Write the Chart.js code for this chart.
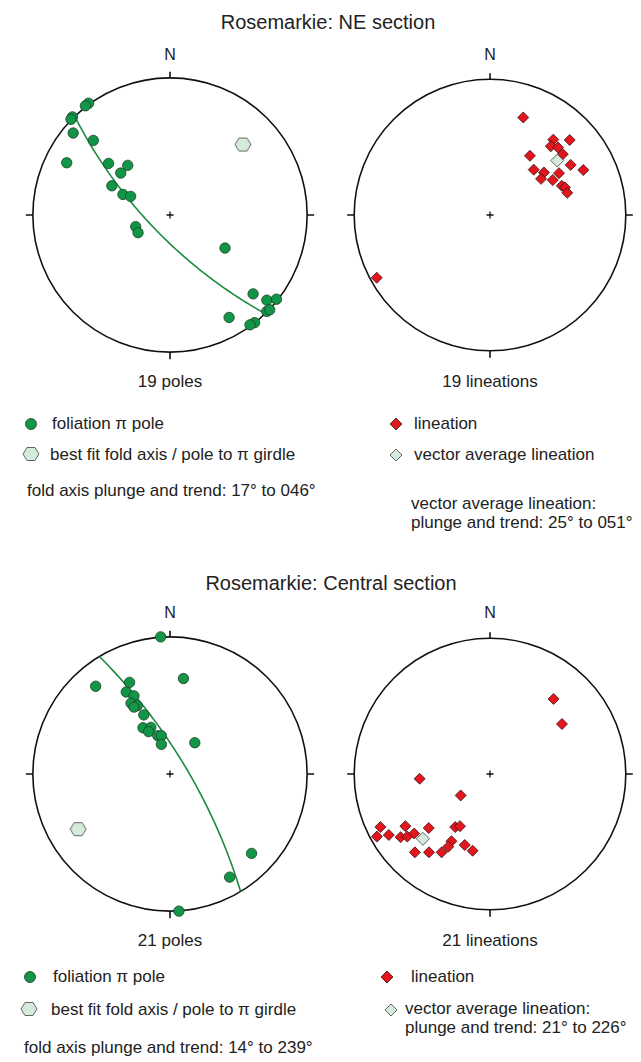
<!DOCTYPE html>
<html lang="en">
<head>
<meta charset="UTF-8" />
<title>Rosemarkie stereonets</title>
<script src="https://cdn.jsdelivr.net/npm/chart.js"></script>
<style>
  body { margin: 0; background: #fff; font-family: 'Liberation Sans', Arial, Helvetica, sans-serif; color: #222; }
  #page { position: relative; width: 641px; height: 1062px; overflow: hidden; background: #fff; }
  .net { position: absolute; width: 300px; height: 300px; }
  .txt { position: absolute; white-space: nowrap; line-height: 1; font-size: 17px; }
  .title { font-size: 20px; transform: translateX(-50%); }
  .mid { transform: translateX(-50%); }
  .north { font-size: 16px; transform: translateX(-50%); }
  .mk { position: absolute; }
</style>
</head>
<body>
<div id="page">
  <div class="txt title" style="left:328px; top:12px;">Rosemarkie: NE section</div>
  <div class="txt north" style="left:170px; top:47px;">N</div>
  <div class="txt north" style="left:490px; top:47px;">N</div>
  <canvas id="nePoles" class="net" width="300" height="300" style="left:20px; top:65px;"></canvas>
  <canvas id="neLin" class="net" width="300" height="300" style="left:340px; top:65px;"></canvas>
  <div class="txt mid" style="left:170px; top:373px;">19 poles</div>
  <div class="txt mid" style="left:490px; top:373px;">19 lineations</div>

  <svg class="mk" style="left:24px; top:417px;" width="14" height="14"><circle cx="7" cy="7" r="5.5" fill="#119647" stroke="#1d3d25" stroke-width="0.8"/></svg>
  <div class="txt" style="left:52px; top:415px;">foliation π pole</div>
  <svg class="mk" style="left:22px; top:446px;" width="18" height="16"><polygon points="1,8 5,1.5 13,1.5 17,8 13,14.5 5,14.5" fill="#d4eadb" stroke="#555" stroke-width="0.9"/></svg>
  <div class="txt" style="left:50px; top:446px;">best fit fold axis / pole to π girdle</div>
  <div class="txt" style="left:27px; top:482px;">fold axis plunge and trend: 17° to 046°</div>

  <svg class="mk" style="left:389px; top:417px;" width="14" height="14"><polygon points="7,1 13,7 7,13 1,7" fill="#e2161c" stroke="#3a1010" stroke-width="0.8"/></svg>
  <div class="txt" style="left:414px; top:415px;">lineation</div>
  <svg class="mk" style="left:389px; top:448px;" width="14" height="14"><polygon points="7,1 13,7 7,13 1,7" fill="#d4eadb" stroke="#555" stroke-width="0.9"/></svg>
  <div class="txt" style="left:414px; top:446px;">vector average lineation</div>
  <div class="txt" style="left:411px; top:495px;">vector average lineation:</div>
  <div class="txt" style="left:411px; top:514px;">plunge and trend: 25° to 051°</div>

  <div class="txt title" style="left:331px; top:573px;">Rosemarkie: Central section</div>
  <div class="txt north" style="left:170px; top:605px;">N</div>
  <div class="txt north" style="left:490px; top:605px;">N</div>
  <canvas id="cePoles" class="net" width="300" height="300" style="left:20px; top:624px;"></canvas>
  <canvas id="ceLin" class="net" width="300" height="300" style="left:340px; top:624px;"></canvas>
  <div class="txt mid" style="left:170px; top:932px;">21 poles</div>
  <div class="txt mid" style="left:490px; top:932px;">21 lineations</div>

  <svg class="mk" style="left:23px; top:970px;" width="14" height="14"><circle cx="7" cy="7" r="5.5" fill="#119647" stroke="#1d3d25" stroke-width="0.8"/></svg>
  <div class="txt" style="left:53px; top:968px;">foliation π pole</div>
  <svg class="mk" style="left:20px; top:1001px;" width="18" height="16"><polygon points="1,8 5,1.5 13,1.5 17,8 13,14.5 5,14.5" fill="#d4eadb" stroke="#555" stroke-width="0.9"/></svg>
  <div class="txt" style="left:51px; top:1001px;">best fit fold axis / pole to π girdle</div>
  <div class="txt" style="left:24px; top:1039px;">fold axis plunge and trend: 14° to 239°</div>

  <svg class="mk" style="left:380px; top:970px;" width="14" height="14"><polygon points="7,1 13,7 7,13 1,7" fill="#e2161c" stroke="#3a1010" stroke-width="0.8"/></svg>
  <div class="txt" style="left:411px; top:968px;">lineation</div>
  <svg class="mk" style="left:384px; top:1003px;" width="14" height="14"><polygon points="7,1 13,7 7,13 1,7" fill="#d4eadb" stroke="#555" stroke-width="0.9"/></svg>
  <div class="txt" style="left:405px; top:1000px;">vector average lineation:</div>
  <div class="txt" style="left:405px; top:1019px;">plunge and trend: 21° to 226°</div>
</div>

<script>
  // Wulff (equal-angle) net, lower hemisphere.
  const nePoles = [
    [-0.594, 0.815], [-0.617, 0.796], [-0.711, 0.715], [-0.722, 0.698], [-0.706, 0.598],
    [-0.559, 0.544], [-0.753, 0.381], [-0.448, 0.376], [-0.308, 0.362], [-0.359, 0.306],
    [-0.424, 0.213], [-0.343, 0.150], [-0.287, 0.136], [-0.250, -0.085], [-0.233, -0.129],
    [0.401, -0.241], [0.606, -0.575], [0.706, -0.621], [0.776, -0.614], [0.431, -0.747],
    [0.706, -0.703], [0.727, -0.691], [0.617, -0.785], [0.583, -0.801]
  ];
  const neLineations = [
    [0.245, 0.718], [0.587, 0.552], [0.466, 0.555], [0.448, 0.506], [0.501, 0.497],
    [0.536, 0.448], [0.294, 0.436], [0.594, 0.369], [0.687, 0.331], [0.322, 0.334],
    [0.397, 0.313], [0.508, 0.308], [0.376, 0.266], [0.462, 0.257], [0.529, 0.215],
    [0.552, 0.203], [0.569, 0.163], [-0.834, -0.462]
  ];
  const cePoles = [
    [-0.068, 1.000], [-0.542, 0.640], [-0.295, 0.668], [0.098, 0.696], [-0.319, 0.598],
    [-0.263, 0.570], [-0.284, 0.516], [-0.239, 0.498], [-0.263, 0.488], [-0.191, 0.431],
    [-0.197, 0.337], [-0.140, 0.340], [-0.156, 0.309], [-0.089, 0.279], [-0.063, 0.279],
    [-0.063, 0.216], [0.181, 0.228], [0.595, -0.579], [0.435, -0.752], [0.065, -1.000]
  ];
  const ceLineations = [
    [0.468, 0.553], [0.530, 0.368], [-0.518, -0.035], [-0.216, -0.158], [-0.807, -0.391],
    [-0.623, -0.384], [-0.451, -0.398], [-0.256, -0.391], [-0.221, -0.384], [-0.833, -0.461],
    [-0.745, -0.449], [-0.658, -0.465], [-0.609, -0.461], [-0.558, -0.438], [-0.284, -0.495],
    [-0.307, -0.535], [-0.186, -0.523], [-0.128, -0.565], [-0.553, -0.577], [-0.449, -0.577],
    [-0.356, -0.577]
  ];

  // [plunge, trend] in degrees, from the captions
  const neFoldAxis = [17, 46];
  const neMeanLineation = [25, 51];
  const ceFoldAxis = [14, 239];
  const ceMeanLineation = [21, 226];

  const GREEN = '#119647';
  const RED = '#e2161c';
  const PALE = '#d4eadb';
  const rad = Math.PI / 180;

  function toXY(pairs) {
    return pairs.map(p => ({ x: p[0], y: p[1] }));
  }

  // stereographic projection of a line given as plunge / trend
  function project(pl, tr) {
    const c = Math.cos(pl * rad), d = Math.sin(pl * rad);
    return { x: c * Math.sin(tr * rad) / (1 + d), y: c * Math.cos(tr * rad) / (1 + d) };
  }

  // great circle (pi girdle) whose pole is the fold axis
  function girdle(axis) {
    const P = axis[0] * rad, T = axis[1] * rad;
    const u = [Math.cos(T), -Math.sin(T), 0];
    const v = [-Math.sin(P) * Math.sin(T), -Math.sin(P) * Math.cos(T), Math.cos(P)];
    const pts = [];
    for (let a = 0; a <= 180; a += 2) {
      const t = a * rad;
      const e = Math.cos(t) * u[0] + Math.sin(t) * v[0];
      const n = Math.cos(t) * u[1] + Math.sin(t) * v[1];
      const dn = Math.cos(t) * u[2] + Math.sin(t) * v[2];
      pts.push({ x: e / (1 + dn), y: n / (1 + dn) });
    }
    return pts;
  }

  // hexagon marker for the fold axis
  const hex = document.createElement('canvas');
  hex.width = 18; hex.height = 16;
  (function () {
    const g = hex.getContext('2d');
    g.beginPath();
    g.moveTo(1, 8); g.lineTo(5, 1.5); g.lineTo(13, 1.5);
    g.lineTo(17, 8); g.lineTo(13, 14.5); g.lineTo(5, 14.5);
    g.closePath();
    g.fillStyle = PALE; g.fill();
    g.strokeStyle = '#555'; g.lineWidth = 0.9; g.stroke();
  })();

  // primitive circle, outer ticks and centre cross
  const netFrame = {
    id: 'netFrame',
    beforeDatasetsDraw(chart) {
      const g = chart.ctx, sx = chart.scales.x, sy = chart.scales.y;
      const cx = sx.getPixelForValue(0), cy = sy.getPixelForValue(0);
      const r = sx.getPixelForValue(1) - cx;
      g.save();
      g.strokeStyle = '#111';
      g.lineWidth = 1.6;
      g.beginPath();
      g.arc(cx, cy, r, 0, Math.PI * 2);
      g.stroke();
      g.beginPath();
      g.moveTo(cx, cy - r); g.lineTo(cx, cy - r - 6);
      g.moveTo(cx, cy + r); g.lineTo(cx, cy + r + 7);
      g.moveTo(cx - r, cy); g.lineTo(cx - r - 7, cy);
      g.moveTo(cx + r, cy); g.lineTo(cx + r + 7, cy);
      g.stroke();
      g.lineWidth = 1.3;
      g.beginPath();
      g.moveTo(cx - 3.5, cy); g.lineTo(cx + 3.5, cy);
      g.moveTo(cx, cy - 3.5); g.lineTo(cx, cy + 3.5);
      g.stroke();
      g.restore();
    }
  };

  function makeNet(id, datasets) {
    new Chart(document.getElementById(id), {
      type: 'scatter',
      data: { datasets: datasets },
      options: {
        responsive: false,
        animation: false,
        events: [],
        layout: { padding: 0 },
        scales: {
          x: { display: false, min: -1.05, max: 1.05 },
          y: { display: false, min: -1.05, max: 1.05 }
        },
        plugins: { legend: { display: false }, tooltip: { enabled: false } }
      },
      plugins: [netFrame]
    });
  }

  function poleSets(poles, axis) {
    return [
      { data: toXY(poles), pointStyle: 'circle', pointRadius: 5.2, backgroundColor: GREEN,
        borderColor: '#1d3d25', borderWidth: 0.8, clip: false, order: 1 },
      { data: [project(axis[0], axis[1])], pointStyle: hex, clip: false, order: 2 },
      { data: girdle(axis), showLine: true, pointRadius: 0, borderColor: '#1b8a3e',
        borderWidth: 1.6, fill: false, clip: false, order: 3 }
    ];
  }

  function lineationSets(lins, mean) {
    return [
      { data: [project(mean[0], mean[1])], pointStyle: 'rectRot', pointRadius: 6.5,
        backgroundColor: PALE, borderColor: '#555', borderWidth: 0.9, clip: false, order: 1 },
      { data: toXY(lins), pointStyle: 'rectRot', pointRadius: 5.5, backgroundColor: RED,
        borderColor: '#3a1010', borderWidth: 0.8, clip: false, order: 2 }
    ];
  }

  makeNet('nePoles', poleSets(nePoles, neFoldAxis));
  makeNet('neLin', lineationSets(neLineations, neMeanLineation));
  makeNet('cePoles', poleSets(cePoles, ceFoldAxis));
  makeNet('ceLin', lineationSets(ceLineations, ceMeanLineation));
</script>
</body>
</html>
